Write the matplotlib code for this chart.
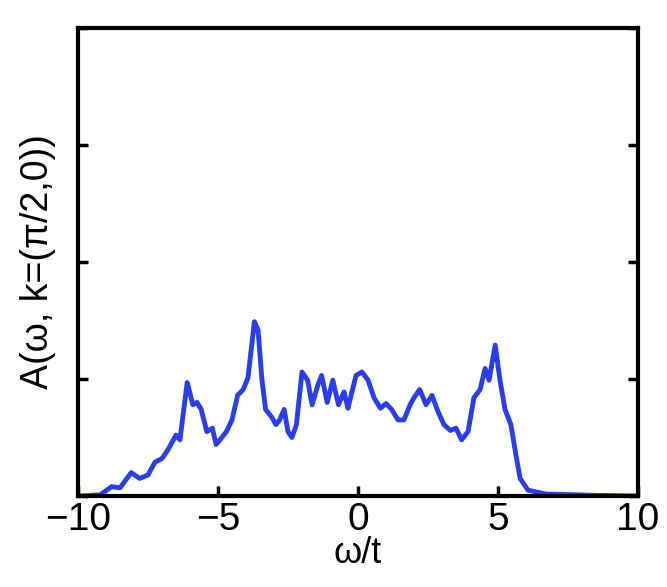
import matplotlib
matplotlib.use("Agg")
import matplotlib.pyplot as plt
import numpy as np

omega = [-10,-9.2,-8.8,-8.5,-8.1,-7.8,-7.5,-7.25,-7.0,-6.8,-6.5,-6.36,-6.1,-5.9,-5.75,-5.6,-5.4,-5.2,-5.07,-4.93,
         -4.7,-4.5,-4.3,-4.1,-3.93,-3.7,-3.57,-3.43,-3.3,-3.07,-2.93,-2.8,-2.64,-2.5,-2.36,-2.2,-2.0,-1.8,-1.64,-1.43,
         -1.3,-1.1,-0.9,-0.7,-0.5,-0.36,-0.07,0.14,0.36,0.57,0.8,1.0,1.2,1.43,1.64,1.86,2.0,2.2,2.43,2.64,
         2.86,3.07,3.3,3.5,3.7,3.93,4.14,4.36,4.54,4.68,4.9,5.07,5.25,5.46,5.64,5.79,6.07,6.7,8.6,10]
A = [0,0.01,0.08,0.07,0.2,0.15,0.18,0.29,0.32,0.39,0.52,0.48,0.97,0.78,0.80,0.74,0.55,0.58,0.44,0.48,
     0.55,0.65,0.86,0.91,1.01,1.49,1.42,0.99,0.74,0.67,0.61,0.65,0.74,0.55,0.5,0.61,1.06,0.99,0.78,0.95,
     1.03,0.80,0.99,0.78,0.89,0.75,1.03,1.06,0.99,0.84,0.75,0.79,0.74,0.65,0.65,0.78,0.84,0.91,0.78,0.86,
     0.72,0.61,0.56,0.58,0.48,0.55,0.84,0.91,1.09,0.99,1.29,0.99,0.74,0.61,0.35,0.15,0.05,0.017,0.005,0]

plt.rcParams['font.family'] = ['Liberation Sans', 'DejaVu Sans']
fig = plt.figure(figsize=(6.67, 5.87), dpi=100)
ax = fig.add_axes([78/667, 1-496/587, 560/667, 468/587])
ax.plot(omega, A, color='#2a3ef0', lw=3.5, solid_joinstyle='round', solid_capstyle='round')
ax.set_xlim(-10, 10)
ax.set_ylim(0, 4)
ax.set_xticks([-10, -5, 0, 5, 10])
ax.set_xticklabels(['\u221210', '\u22125', '0', '5', '10'])
ax.set_yticks([0, 1, 2, 3, 4])
ax.set_yticklabels([])
ax.tick_params(direction='in', length=7, width=2.5, labelsize=28, right=True, top=False, pad=4)
for s in ax.spines.values():
    s.set_linewidth(3)
ax.set_xlabel('\u03c9/t', fontsize=26, labelpad=-1)
ax.set_ylabel('A(\u03c9, k=(\u03c0/2,0))', fontsize=27, labelpad=12)
fig.savefig('out.png', dpi=100)
